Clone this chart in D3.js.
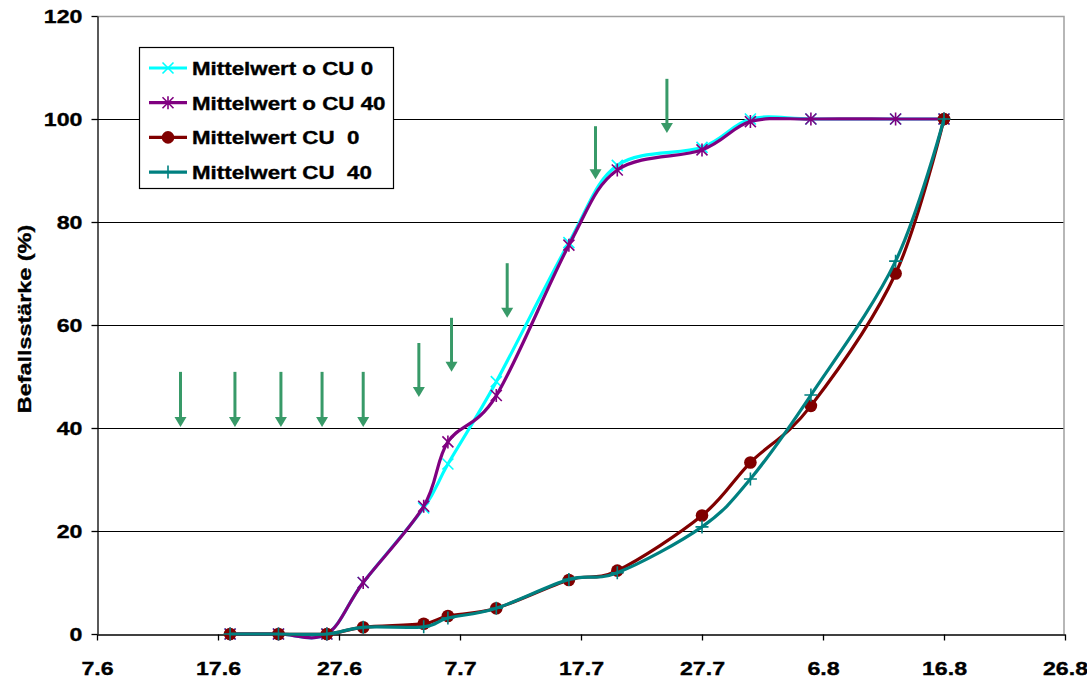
<!DOCTYPE html>
<html>
<head>
<meta charset="utf-8">
<script src="https://cdn.jsdelivr.net/npm/d3@7"></script>
<style>
  html, body { margin: 0; padding: 0; background: #fff; }
  svg text { font-family: "Liberation Sans", Arial, sans-serif; font-weight: bold; fill: #000; stroke: #000; stroke-width: 0.35px; }
</style>
</head>
<body>
<svg id="chart" width="1087" height="680"></svg>
<script>
// ---------- data ----------
const dates = ["2004-06-18","2004-06-22","2004-06-26","2004-06-29","2004-07-04","2004-07-06","2004-07-10",
               "2004-07-16","2004-07-20","2004-07-27","2004-07-31","2004-08-05","2004-08-12","2004-08-16"];
const oCU0  = [0, 0, 0, 10, 24.5, 33.0, 49.0, 76.0, 91.0, 94.5, 100, 100, 100, 100];
const oCU40 = [0, 0, 0, 10, 24.8, 37.3, 46.3, 75.5, 90.1, 94.0, 99.5, 100, 100, 100];
const CU0   = [0, 0, 0, 1.3, 2.0, 3.5, 5.0, 10.5, 12.3, 23.0, 33.3, 44.3, 70.0, 100];
const CU40  = [0, 0, 0, 1.3, 1.4, 3.1, 5.0, 10.6, 11.9, 20.8, 30.1, 46.4, 72.4, 100];
const seriesNames = ["Mittelwert o CU 0", "Mittelwert o CU 40", "Mittelwert CU  0", "Mittelwert CU  40"];
const xTickDates = ["2004-06-07","2004-06-17","2004-06-27","2004-07-07","2004-07-17","2004-07-27","2004-08-06","2004-08-16","2004-08-26"];
const yTickValues = [0, 20, 40, 60, 80, 100, 120];
const yTitle = "Befallsstärke (%)";
// annotation arrows: day offset from 7.6, top value, tip value
const arrowDays = [6.9, 11.4, 15.2, 18.6, 22.0, 26.6, 29.3, 33.9, 41.2, 47.1];
const arrowTop  = [50.9, 50.9, 50.9, 50.9, 50.9, 56.5, 61.4, 72.0, 98.6, 107.8];
const arrowTip  = [40.2, 40.2, 40.2, 40.2, 40.2, 46.0, 50.9, 61.4, 88.3, 97.3];

// ---------- setup ----------
const parse = d3.utcParse("%Y-%m-%d");
const L = 97, R = 1065, T = 16, B = 634;
const x = d3.scaleUtc().domain([parse("2004-06-07"), parse("2004-08-26")]).range([L, R]);
const y = d3.scaleLinear().domain([0, 120]).range([B, T]);
const svg = d3.select("#chart");
const STRETCH = 1.22;
function stretch(sel, k) {
  sel.each(function () {
    const w = this.getComputedTextLength();
    d3.select(this).attr("textLength", w * k).attr("lengthAdjust", "spacingAndGlyphs");
  });
}

const colors = ["#00FFFF", "#800080", "#800000", "#008080"];
const markers = ["x", "star", "circle", "plus"];
const values = [oCU0, oCU40, CU0, CU40];
const series = values.map((v, i) => ({
  name: seriesNames[i], color: colors[i], marker: markers[i],
  pts: v.map((val, j) => ({ d: parse(dates[j]), v: val }))
}));

// gridlines
svg.append("g").selectAll("line").data(yTickValues.filter(v => v > 0 && v < 120)).join("line")
  .attr("x1", L).attr("x2", R - 1)
  .attr("y1", d => Math.round(y(d)) + 0.5).attr("y2", d => Math.round(y(d)) + 0.5)
  .attr("stroke", "#000").attr("stroke-width", 1);

// plot border top/right
svg.append("path")
  .attr("d", `M${L},${T + 0.5}H${R - 1}V${B}`)
  .attr("fill", "none").attr("stroke", "#a0a0a0").attr("stroke-width", 1.5);

// axes
const yAxis = svg.append("g").attr("transform", `translate(${L + 0.5},0)`)
  .call(d3.axisLeft(y).tickValues(yTickValues).tickSize(6).tickSizeOuter(0));
yAxis.select(".domain").attr("stroke", "#000").attr("stroke-width", 1.3);
yAxis.selectAll(".tick line").attr("stroke", "#000").attr("stroke-width", 1.3);
yAxis.selectAll(".tick text").attr("x", -15).attr("dy", null).attr("y", 6.5)
  .style("font-size", "19px").attr("fill", "#000").style("font-family", null);
stretch(yAxis.selectAll(".tick text"), STRETCH);

const xAxis = svg.append("g").attr("transform", `translate(0,${B + 0.5})`)
  .call(d3.axisBottom(x).tickValues(xTickDates.map(parse)).tickFormat(d3.utcFormat("%-d.%-m"))
        .tickSize(6).tickSizeOuter(0));
xAxis.select(".domain").attr("stroke", "#000").attr("stroke-width", 1.3);
xAxis.selectAll(".tick line").attr("stroke", "#000").attr("stroke-width", 1.3);
xAxis.selectAll(".tick text").attr("dy", null).attr("y", 40.5)
  .style("font-size", "19px").attr("fill", "#000").style("font-family", null);
stretch(xAxis.selectAll(".tick text"), STRETCH);

// y title
const yt = svg.append("text")
  .attr("transform", `translate(31,${(T + B) / 2 - 6}) rotate(-90)`)
  .attr("text-anchor", "middle").style("font-size", "19px").text(yTitle);
stretch(yt, 1.23);

// ---------- markers ----------
function drawMarker(g, type, color, cx, cy, scale) {
  const s = scale || 1;
  if (type === "x") {
    const r = 5.5 * s;
    g.append("path").attr("d", `M${cx - r},${cy - r}L${cx + r},${cy + r}M${cx - r},${cy + r}L${cx + r},${cy - r}`)
      .attr("stroke", color).attr("stroke-width", 1.6).attr("fill", "none");
  } else if (type === "star") {
    const r = 5.5 * s;
    g.append("path").attr("d", `M${cx - r},${cy - r}L${cx + r},${cy + r}M${cx - r},${cy + r}L${cx + r},${cy - r}M${cx},${cy - r - 1}L${cx},${cy + r + 1}`)
      .attr("stroke", color).attr("stroke-width", 1.6).attr("fill", "none");
  } else if (type === "circle") {
    g.append("circle").attr("cx", cx).attr("cy", cy).attr("r", 6.3 * s).attr("fill", color);
  } else if (type === "plus") {
    const r = 6.5 * s;
    g.append("path").attr("d", `M${cx - r},${cy}L${cx + r},${cy}M${cx},${cy - r}L${cx},${cy + r}`)
      .attr("stroke", color).attr("stroke-width", 1.6).attr("fill", "none");
  }
}

// ---------- lines ----------
const line = d3.line().x(p => x(p.d)).y(p => y(p.v)).curve(d3.curveCardinal.tension(0));
series.forEach(s => {
  const g = svg.append("g");
  g.append("path").datum(s.pts).attr("d", line)
    .attr("fill", "none").attr("stroke", s.color).attr("stroke-width", 3.2)
    .attr("stroke-linejoin", "round").attr("stroke-linecap", "round");
  s.pts.forEach(p => drawMarker(g, s.marker, s.color, x(p.d), y(p.v)));
});

// ---------- arrows ----------
const day0 = parse("2004-06-07").getTime();
const arrowG = svg.append("g");
arrowDays.forEach((dd, i) => {
  const ax = x(new Date(day0 + dd * 86400000));
  const yTop = y(arrowTop[i]), yTip = y(arrowTip[i]);
  const hh = 10, hw = 6;
  arrowG.append("line").attr("x1", ax).attr("x2", ax).attr("y1", yTop).attr("y2", yTip - hh + 1)
    .attr("stroke", "#389a68").attr("stroke-width", 3);
  arrowG.append("path").attr("d", `M${ax - hw},${yTip - hh}L${ax + hw},${yTip - hh}L${ax},${yTip}Z`)
    .attr("fill", "#389a68");
});

// ---------- legend ----------
const lg = svg.append("g");
lg.append("rect").attr("x", 139.5).attr("y", 47.5).attr("width", 254).attr("height", 141)
  .attr("fill", "#fff").attr("stroke", "#000").attr("stroke-width", 1.2);
series.forEach((s, i) => {
  const cy = 68 + i * 34.7;
  lg.append("line").attr("x1", 149).attr("x2", 187).attr("y1", cy).attr("y2", cy)
    .attr("stroke", s.color).attr("stroke-width", 3.2);
  drawMarker(lg, s.marker, s.color, 168, cy);
  const t = lg.append("text").attr("x", 192).attr("y", cy + 7).style("font-size", "18px")
    .style("white-space", "pre").text(s.name);
  stretch(t, 1.24);
});
</script>
</body>
</html>
